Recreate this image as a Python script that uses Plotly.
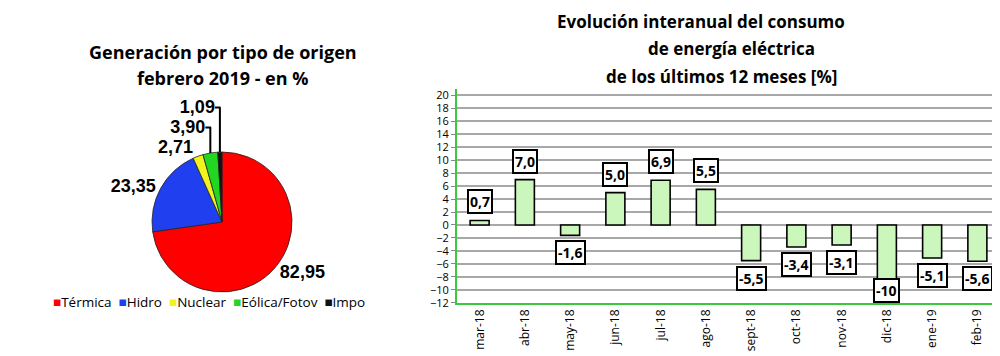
import plotly.graph_objects as go

# ---- data ----
pie_labels = ["Térmica", "Hidro", "Nuclear", "Eólica/Fotov", "Impo"]
pie_values = [82.95, 23.35, 2.71, 3.90, 1.09]
pie_colors = ["#FF0000", "#2040F0", "#F2F21C", "#22D622", "#111111"]

months = ["mar-18", "abr-18", "may-18", "jun-18", "jul-18", "ago-18",
          "sept-18", "oct-18", "nov-18", "dic-18", "ene-19", "feb-19"]
variation = [0.7, 7.0, -1.6, 5.0, 6.9, 5.5, -5.5, -3.4, -3.1, -10, -5.1, -5.6]
variation_text = ["0,7", "7,0", "-1,6", "5,0", "6,9", "5,5",
                  "-5,5", "-3,4", "-3,1", "-10", "-5,1", "-5,6"]
y_ticks = list(range(-12, 21, 2))

W, H = 1000, 356
OFF = 8  # the page's body margin shifts the figure by this many pixels
Y_MIN, Y_MAX = -12, 21


def px_x(x):
    return (x - OFF) / W


def px_y(y):
    return 1 - (y - OFF) / H


fig = go.Figure()

pie_cx, pie_cy, pie_d = 222, 222, 140
fig.add_trace(go.Pie(
    labels=pie_labels, values=pie_values, sort=False, direction="clockwise",
    rotation=0, marker=dict(colors=pie_colors, line=dict(color="#222", width=0.8)),
    textposition="outside", texttemplate="<b>%{value:.2f}</b>",
    textfont=dict(family="Liberation Sans", size=18, color="black"),
    domain=dict(x=[px_x(pie_cx - pie_d / 2), px_x(pie_cx + pie_d / 2)],
                y=[px_y(pie_cy + pie_d / 2), px_y(pie_cy - pie_d / 2)]),
    showlegend=False,
))

fig.add_trace(go.Bar(
    x=months, y=variation, width=0.42,
    marker=dict(color="#CCF7BC", line=dict(color="black", width=1.6)),
    xaxis="x", yaxis="y", showlegend=False, hoverinfo="x+y",
))

annotations = []
for m, v, t in zip(months, variation, variation_text):
    if v >= 0:
        y, anchor, shift = v, "bottom", 6
    elif v - 3.2 < Y_MIN:
        y, anchor, shift = Y_MIN, "bottom", 0
    else:
        y, anchor, shift = v, "top", -5
    annotations.append(dict(
        x=m, y=y, xref="x", yref="y", text="<b>" + t + "</b>", showarrow=False,
        yanchor=anchor, yshift=shift, bgcolor="white", bordercolor="black",
        borderwidth=2, borderpad=1,
        font=dict(family="Open Sans", size=14, color="black"),
    ))

title_lines = [
    ("Generación por tipo de origen", 223, 52, 18),
    ("febrero 2019 - en %", 222, 78, 18),
    ("Evolución interanual del consumo", 701, 21, 17),
    ("de energía eléctrica", 731, 48, 17),
    ("de los últimos 12 meses [%]", 721, 77, 17),
]
for txt, xc, yc, fs in title_lines:
    annotations.append(dict(
        x=px_x(xc), y=px_y(yc), xref="paper", yref="paper", showarrow=False,
        text="<b>" + txt + "</b>", xanchor="center", yanchor="middle",
        font=dict(family="Open Sans", size=fs, color="black"),
    ))

# legend of the pie, built from its labels and colours
legend_text = "  ".join(
    '<span style="color:%s">■</span>%s' % (c, lab)
    for lab, c in zip(pie_labels, pie_colors)
)
annotations.append(dict(
    x=px_x(209), y=px_y(302), xref="paper", yref="paper", showarrow=False,
    text=legend_text, xanchor="center", yanchor="middle",
    font=dict(family="Open Sans", size=13.5, color="black"),
))

fig.update_layout(
    width=W, height=H, margin=dict(l=0, r=0, t=0, b=0, autoexpand=False),
    paper_bgcolor="white", plot_bgcolor="white",
    separators=",.",
    annotations=annotations,
    showlegend=False,
    xaxis=dict(domain=[px_x(457), px_x(1000)], anchor="y", showgrid=False,
               showline=True, linecolor="#3CC83C", linewidth=2,
               tickangle=-90, tickfont=dict(family="Open Sans", size=12, color="black"),
               ticks="", fixedrange=True),
    yaxis=dict(domain=[px_y(302.7), px_y(89)], anchor="x",
               range=[Y_MIN, Y_MAX], tickvals=y_ticks, showgrid=True,
               gridcolor="#A8A8A8", gridwidth=1.5, zeroline=False,
               showline=True, linecolor="#3CC83C", linewidth=2,
               ticks="outside", ticklen=4, tickcolor="#888",
               tickfont=dict(family="Open Sans", size=11, color="black")),
)

fig.write_html("out.html")
